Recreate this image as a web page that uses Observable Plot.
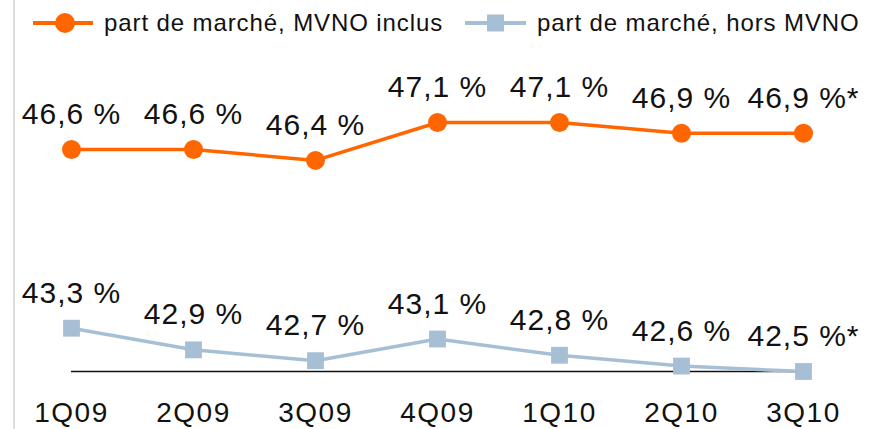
<!DOCTYPE html>
<html>
<head>
<meta charset="utf-8">
<script src="https://cdn.jsdelivr.net/npm/d3@7"></script>
<script src="https://cdn.jsdelivr.net/npm/@observablehq/plot@0.6"></script>
<style>
  html, body { margin: 0; padding: 0; background: #fff; }
  body { width: 875px; height: 429px; overflow: hidden; position: relative; font-family: "Liberation Sans", Arial, sans-serif; }
  #frame { position: absolute; left: 13px; top: 0; width: 2px; height: 429px; background: #dedede; }
  #legend { position: relative; height: 44px; width: 875px; }
  .item { position: absolute; top: 0; height: 44px; display: flex; align-items: center; font-size: 24px; letter-spacing: 0.9px; color: #111; }
  .item svg { margin-right: 11px; }
  #chart { position: relative; }
  #chart text.val { letter-spacing: 1px; }
  #chart g[aria-label="x-axis tick label"] text { letter-spacing: 1.5px; }
</style>
</head>
<body>
<div id="frame"></div>
<div id="legend"></div>
<div id="chart"></div>
<script>
const quarters = ["1Q09", "2Q09", "3Q09", "4Q09", "1Q10", "2Q10", "3Q10"];
const inclusMVNO = [46.6, 46.6, 46.4, 47.1, 47.1, 46.9, 46.9];
const horsMVNO = [43.3, 42.9, 42.7, 43.1, 42.8, 42.6, 42.5];
const noteFlags = ["", "", "", "", "", "", "*"];
const seriesNames = ["part de marché, MVNO inclus", "part de marché, hors MVNO"];
const axisBase = 42.5;

const orange = "#ff6600";
const blue = "#a7bfd4";

const fmt = (v, i) => v.toFixed(1).replace(".", ",") + " %" + noteFlags[i];

const rowsA = quarters.map((q, i) => ({q, v: inclusMVNO[i], label: fmt(inclusMVNO[i], i)}));
const rowsB = quarters.map((q, i) => ({q, v: horsMVNO[i], label: fmt(horsMVNO[i], i)}));

// legend
const legend = document.getElementById("legend");
legend.innerHTML = `
  <div class="item" style="left:33px;top:1px">
    <svg width="60" height="22"><line x1="0" y1="11" x2="60" y2="11" stroke="${orange}" stroke-width="4"/><circle cx="32" cy="11" r="10" fill="${orange}"/></svg>
    <span>${seriesNames[0]}</span>
  </div>
  <div class="item" style="left:465px;top:1px">
    <svg width="61" height="22"><line x1="0" y1="11" x2="61" y2="11" stroke="${blue}" stroke-width="4"/><rect x="22" y="2.5" width="17" height="17" fill="${blue}"/></svg>
    <span>${seriesNames[1]}</span>
  </div>`;

const H = 385;
const chart = Plot.plot({
  width: 875,
  height: H,
  marginTop: 0,
  marginBottom: 58,
  marginLeft: 0,
  marginRight: 0,
  style: {fontFamily: "Liberation Sans, Arial, sans-serif", color: "#111", background: "transparent"},
  x: {type: "point", domain: quarters, range: [69, 805], padding: 0},
  y: {domain: [42.5, 47.1], range: [327, 78], axis: null},
  marks: [
    Plot.axisX({tickSize: 0, tickPadding: 31, fontSize: 28, fill: "#111"}),
    Plot.ruleY([{y: axisBase, x1: quarters[0], x2: quarters[quarters.length - 1]}], {y: "y", x1: "x1", x2: "x2", stroke: "#111", strokeWidth: 1.5}),
    Plot.line(rowsA, {x: "q", y: "v", stroke: orange, strokeWidth: 3.5}),
    Plot.dot(rowsA, {x: "q", y: "v", r: 9.5, fill: orange, stroke: "none"}),
    Plot.line(rowsB, {x: "q", y: "v", stroke: blue, strokeWidth: 3.5}),
    Plot.dot(rowsB, {x: "q", y: "v", symbol: "square", r: 9.5, fill: blue, stroke: "none"}),
    Plot.text(rowsA, {x: "q", y: "v", text: "label", dy: -35, fontSize: 30, fill: "#111", className: "val"}),
    Plot.text(rowsB, {x: "q", y: "v", text: "label", dy: -35, fontSize: 30, fill: "#111", className: "val"})
  ]
});
chart.querySelectorAll("g[aria-label='text'] text").forEach(t => t.classList.add("val"));
document.getElementById("chart").appendChild(chart);
</script>
</body>
</html>
